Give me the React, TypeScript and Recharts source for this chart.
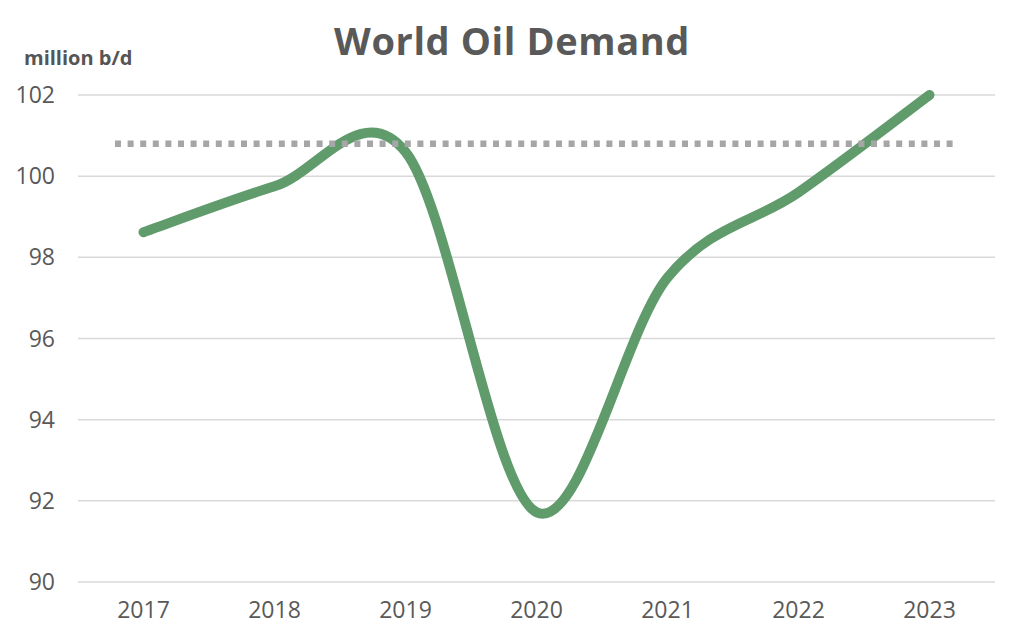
import { LineChart, Line, XAxis, YAxis, CartesianGrid, ReferenceLine } from "recharts";

const years = ["2017", "2018", "2019", "2020", "2021", "2022", "2023"];
const demand = [98.62, 99.75, 100.6, 91.72, 97.5, 99.6, 102.0];
const yTicks = [90, 92, 94, 96, 98, 100, 102];

// pre-pandemic benchmark level
const benchmarkLevel = 100.8;

const data = years.map((year, i) => ({ year, demand: demand[i] }));

const FONT = "'Open Sans', 'Liberation Sans', sans-serif";
const TEXT = "#595959";
const HALF_BAND = 65.5;
const BENCH_INSET = 37;

// Catmull-Rom style smoothing, close to how spreadsheet "smoothed lines" look
function smoothCurve(context: any) {
  let pts: [number, number][] = [];
  return {
    areaStart() {},
    areaEnd() {},
    lineStart() {
      pts = [];
    },
    point(x: number, y: number) {
      pts.push([+x, +y]);
    },
    lineEnd() {
      if (!pts.length) return;
      context.moveTo(pts[0][0], pts[0][1]);
      for (let i = 0; i < pts.length - 1; i++) {
        const p0 = pts[Math.max(i - 1, 0)];
        const p1 = pts[i];
        const p2 = pts[i + 1];
        const p3 = pts[Math.min(i + 2, pts.length - 1)];
        context.bezierCurveTo(
          p1[0] + (p2[0] - p0[0]) / 6,
          p1[1] + (p2[1] - p0[1]) / 6,
          p2[0] - (p3[0] - p1[0]) / 6,
          p2[1] - (p3[1] - p1[1]) / 6,
          p2[0],
          p2[1]
        );
      }
    },
  };
}

// dotted benchmark, pulled in from both plot edges
const DottedBenchmark = (props: any) => {
  const { x1, x2, y1 } = props;
  if (x1 == null || y1 == null) return null;
  return (
    <line
      x1={x1 + BENCH_INSET}
      x2={x2 - BENCH_INSET}
      y1={y1}
      y2={y1}
      stroke="#a6a6a6"
      strokeWidth={6.5}
      strokeDasharray="6 6.6"
    />
  );
};

export default function App() {
  return (
    <div style={{ position: "absolute", left: 0, top: 0, width: 1024, height: 643, background: "#fff" }}>
      <LineChart
        width={1024}
        height={643}
        data={data}
        margin={{ top: 95, right: 29, bottom: 0, left: 0 }}
      >
        <CartesianGrid vertical={false} stroke="#d9d9d9" strokeWidth={1.5} />
        <XAxis
          dataKey="year"
          height={61}
          padding={{ left: HALF_BAND, right: HALF_BAND }}
          axisLine={false}
          tickLine={false}
          tickMargin={14}
          tick={{ fill: TEXT, fontSize: 23, fontFamily: FONT }}
        />
        <YAxis
          domain={[90, 102]}
          ticks={yTicks}
          width={78}
          axisLine={false}
          tickLine={false}
          tickMargin={17}
          tick={{ fill: TEXT, fontSize: 23, fontFamily: FONT }}
        />
        <Line
          dataKey="demand"
          type={smoothCurve as any}
          stroke="#609b6c"
          strokeWidth={10}
          strokeLinecap="round"
          strokeLinejoin="round"
          dot={false}
          activeDot={false}
          isAnimationActive={false}
        />
        <ReferenceLine y={benchmarkLevel} shape={DottedBenchmark} />
      </LineChart>
      <svg
        width={1024}
        height={100}
        style={{ position: "absolute", left: 0, top: 0, pointerEvents: "none" }}
      >
        <text
          x={512}
          y={55}
          textAnchor="middle"
          fontFamily={FONT}
          fontWeight={700}
          fontSize={38}
          letterSpacing={0.6}
          fill={TEXT}
        >
          World Oil Demand
        </text>
        <text x={24} y={65} fontFamily={FONT} fontWeight={700} fontSize={20} fill="#555">
          million b/d
        </text>
      </svg>
    </div>
  );
}
